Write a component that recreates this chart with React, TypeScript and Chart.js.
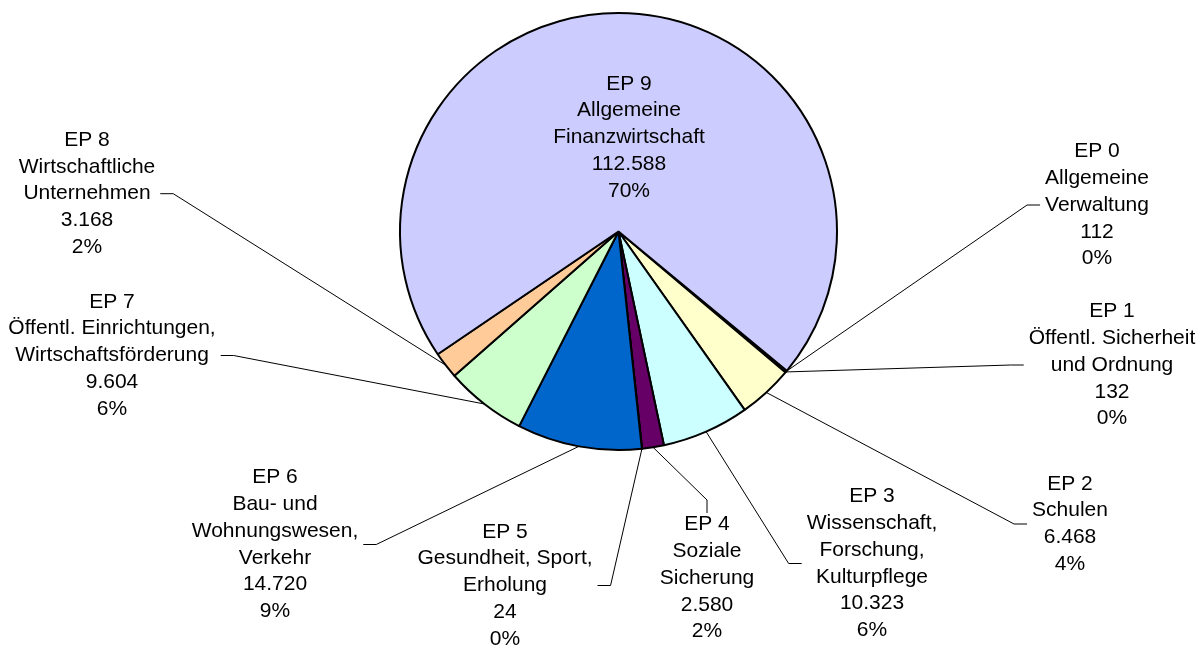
import React, { useEffect, useRef } from 'react';
import { Chart, registerables } from 'chart.js';

Chart.register(...registerables);

// ---- data ----
const categories: string[] = ['EP 0', 'EP 1', 'EP 2', 'EP 3', 'EP 4', 'EP 5', 'EP 6', 'EP 7', 'EP 8', 'EP 9'];
const descriptions: string[][] = [
  ['Allgemeine', 'Verwaltung'],
  ['Öffentl. Sicherheit', 'und Ordnung'],
  ['Schulen'],
  ['Wissenschaft,', 'Forschung,', 'Kulturpflege'],
  ['Soziale', 'Sicherung'],
  ['Gesundheit, Sport,', 'Erholung'],
  ['Bau- und', 'Wohnungswesen,', 'Verkehr'],
  ['Öffentl. Einrichtungen,', 'Wirtschaftsförderung'],
  ['Wirtschaftliche', 'Unternehmen'],
  ['Allgemeine', 'Finanzwirtschaft'],
];
const values: number[] = [112, 132, 6468, 10323, 2580, 24, 14720, 9604, 3168, 112588];

// ---- styles / layout ----
const sliceColors = ['#9999FF', '#993366', '#FFFFCC', '#CCFFFF', '#660066', '#FF8080', '#0066CC', '#CCFFCC', '#FFCC99', '#CCCCFF'];
type Attach = 'left' | 'right' | 'top' | 'none';
const labelLayout: { cx: number; cy: number; attach: Attach }[] = [
  { cx: 1097, cy: 205, attach: 'left' },
  { cx: 1112, cy: 365, attach: 'left' },
  { cx: 1070, cy: 524, attach: 'left' },
  { cx: 872, cy: 563.5, attach: 'left' },
  { cx: 707, cy: 578, attach: 'top' },
  { cx: 505, cy: 585.5, attach: 'right' },
  { cx: 275, cy: 544.5, attach: 'right' },
  { cx: 112, cy: 355.5, attach: 'right' },
  { cx: 87, cy: 193.7, attach: 'right' },
  { cx: 629, cy: 137.4, attach: 'none' },
];
const FONT = '21px "Liberation Sans", Arial, sans-serif';
const LINE_H = 26.8;
const GAP = 5;
const ELBOW = 13;

const fmtThousands = (n: number) => String(n).replace(/\B(?=(\d{3})+(?!\d))/g, '.');

const labelPlugin = {
  id: 'outsideLabels',
  afterDatasetsDraw(chart: any) {
    const ctx: CanvasRenderingContext2D = chart.ctx;
    const meta = chart.getDatasetMeta(0);
    const total = values.reduce((a, b) => a + b, 0);
    ctx.save();
    ctx.font = FONT;
    ctx.fillStyle = '#000';
    ctx.textAlign = 'center';
    ctx.textBaseline = 'middle';
    meta.data.forEach((arc: any, i: number) => {
      const p = arc.getProps(['x', 'y', 'startAngle', 'endAngle', 'outerRadius'], true);
      const lines = [categories[i], ...descriptions[i], fmtThousands(values[i]), Math.round((values[i] / total) * 100) + '%'];
      const lay = labelLayout[i];
      const n = lines.length;
      const maxW = Math.max(...lines.map((l) => ctx.measureText(l).width));
      const top = lay.cy - (n * LINE_H) / 2;
      lines.forEach((l, k) => {
        ctx.fillText(l, lay.cx, lay.cy + (k - (n - 1) / 2) * LINE_H);
      });
      if (lay.attach !== 'none') {
        const mid = (p.startAngle + p.endAngle) / 2;
        const ax = p.x + Math.cos(mid) * p.outerRadius;
        const ay = p.y + Math.sin(mid) * p.outerRadius;
        let ex = 0, ey = 0, bx = 0, by = 0;
        if (lay.attach === 'left') {
          ex = lay.cx - maxW / 2 - GAP; ey = lay.cy; bx = ex - ELBOW; by = ey;
        } else if (lay.attach === 'right') {
          ex = lay.cx + maxW / 2 + GAP; ey = lay.cy; bx = ex + ELBOW; by = ey;
        } else {
          ex = lay.cx; ey = top + 2; bx = ex; by = ey - ELBOW;
        }
        ctx.beginPath();
        ctx.strokeStyle = '#000';
        ctx.lineWidth = 1;
        ctx.moveTo(ax, ay);
        ctx.lineTo(bx, by);
        ctx.lineTo(ex, ey);
        ctx.stroke();
      }
    });
    ctx.restore();
  },
};

export default function App() {
  const ref = useRef<HTMLCanvasElement | null>(null);
  useEffect(() => {
    if (!ref.current) return;
    const chart = new Chart(ref.current, {
      type: 'pie',
      data: {
        labels: categories,
        datasets: [
          {
            data: values,
            backgroundColor: sliceColors,
            borderColor: '#000000',
            borderWidth: 2,
          },
        ],
      },
      options: {
        responsive: false,
        animation: false,
        devicePixelRatio: 1,
        rotation: 129.6,
        radius: 218.5,
        layout: { padding: { left: 39, right: 0, top: 0, bottom: 187 } },
        plugins: {
          legend: { display: false },
          tooltip: { enabled: false },
        },
      } as any,
      plugins: [labelPlugin],
    });
    return () => chart.destroy();
  }, []);
  return (
    <div style={{ position: 'absolute', left: 0, top: 0, width: 1198, height: 650, background: '#fff' }}>
      <canvas ref={ref} width={1198} height={650} style={{ display: 'block' }} />
    </div>
  );
}
